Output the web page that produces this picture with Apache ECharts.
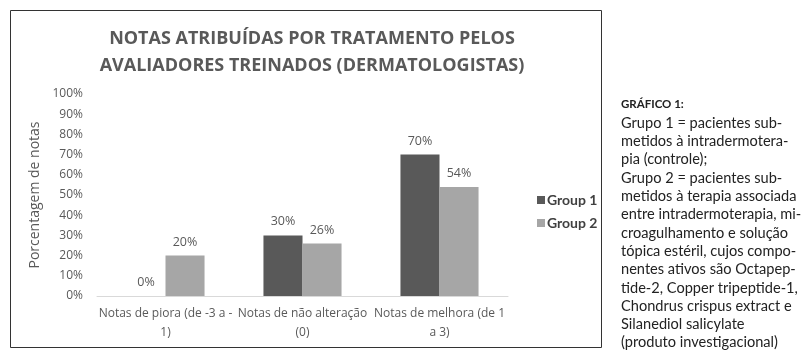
<!DOCTYPE html>
<html>
<head>
<meta charset="utf-8">
<script src="https://cdn.jsdelivr.net/npm/echarts@6/dist/echarts.min.js"></script>
<style>
html,body{margin:0;padding:0;background:#fff;}
#c{width:809px;height:363px;}
</style>
</head>
<body>
<div id="c"></div>
<script>
const titleText = 'NOTAS ATRIBUÍDAS POR TRATAMENTO PELOS\nAVALIADORES TREINADOS (DERMATOLOGISTAS)';
const categories = ['Notas de piora (de -3 a -\n1)', 'Notas de não alteração\n(0)', 'Notas de melhora (de 1\na 3)'];
const seriesNames = ['Group 1', 'Group 2'];
const group1 = [0, 30, 70];
const group2 = [20, 26, 54];
const yTicks = [0, 10, 20, 30, 40, 50, 60, 70, 80, 90, 100];
const yAxisName = 'Porcentagem de notas';
const noteLines = [
  'GRÁFICO 1:',
  'Grupo 1 = pacientes sub-',
  'metidos à intradermotera-',
  'pia (controle);',
  'Grupo 2 = pacientes sub-',
  'metidos à terapia associada',
  'entre intradermoterapia, mi-',
  'croagulhamento e solução',
  'tópica estéril, cujos compo-',
  'nentes ativos são Octapep-',
  'tide-2, Copper tripeptide-1,',
  'Chondrus crispus extract e',
  'Silanediol salicylate',
  '(produto investigacional)'
];

const chart = echarts.init(document.getElementById('c'), null, {renderer: 'canvas'});
const labelFont = '"Open Sans", sans-serif';
const noteText = noteLines.slice(1).join('\n');

chart.setOption({
  animation: false,
  title: {
    text: titleText,
    left: 307, top: 20, textAlign: 'center',
    textStyle: {fontFamily: labelFont, fontSize: 18, fontWeight: 'bold', color: '#595959', lineHeight: 27}
  },
  legend: {
    orient: 'vertical', left: 532, top: 188, itemWidth: 8, itemHeight: 8, itemGap: 9,
    icon: 'rect',
    textStyle: {fontFamily: 'Lato, sans-serif', fontSize: 14, fontWeight: 'bold', color: '#404040', padding: [0,0,0,-3]},
    data: seriesNames
  },
  grid: {left: 97, right: 301, top: 94, bottom: 67},
  xAxis: {
    type: 'category', data: categories,
    axisLine: {lineStyle: {color: '#d9d9d9', width: 1}},
    axisTick: {show: false},
    axisLabel: {fontFamily: labelFont, fontSize: 12, color: '#595959', lineHeight: 19, margin: 8, interval: 0, hideOverlap: false}
  },
  yAxis: {
    type: 'value', min: yTicks[0], max: yTicks[yTicks.length-1], interval: 10,
    name: yAxisName, nameLocation: 'middle', nameGap: 37, nameRotate: 90,
    nameTextStyle: {fontFamily: labelFont, fontSize: 14, color: '#595959'},
    splitLine: {show: false},
    axisLine: {show: false}, axisTick: {show: false},
    axisLabel: {fontFamily: labelFont, fontSize: 12, color: '#595959', margin: 14, formatter: v => v + '%'}
  },
  series: [
    {name: seriesNames[0], type: 'bar', data: group1, barGap: '0%', barCategoryGap: '43%',
     itemStyle: {color: '#595959'},
     label: {show: true, position: 'top', distance: 7, fontFamily: labelFont, fontSize: 12.5, color: '#595959', formatter: p => p.value + '%'}},
    {name: seriesNames[1], type: 'bar', data: group2, barGap: '0%', barCategoryGap: '43%',
     itemStyle: {color: '#a6a6a6'},
     label: {show: true, position: 'top', distance: 7, fontFamily: labelFont, fontSize: 12.5, color: '#595959', formatter: p => p.value + '%'}}
  ],
  graphic: [
    {type: 'rect', shape: {x: 10.5, y: 10.5, width: 591, height: 337}, style: {fill: 'none', stroke: '#333', lineWidth: 1}, z: -1},
    {type: 'text', left: 621, top: 98, style: {text: noteLines[0], font: 'bold 11.5px Lato, sans-serif', fill: '#222'}},
    {type: 'text', left: 621, top: 114, style: {text: noteText, font: '14.6px Lato, sans-serif', fill: '#222', lineHeight: 18.3}}
  ]
});
</script>
</body>
</html>
